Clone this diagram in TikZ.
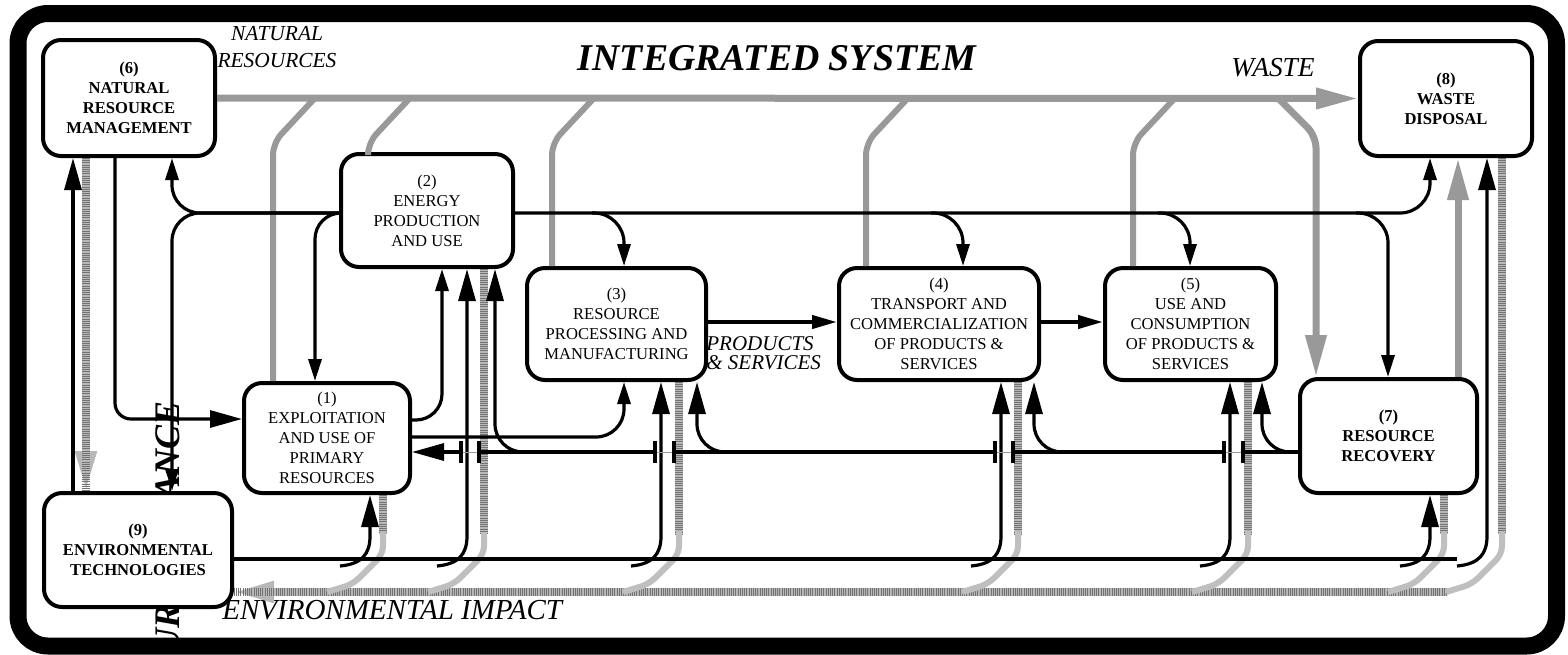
\documentclass[tikz,border=0pt]{standalone}
\usepackage{fontspec}
\setmainfont{Liberation Serif}
\usetikzlibrary{arrows.meta}

\tikzset{
  box/.style={draw, line width=2pt, rounded corners=9pt, fill=white, align=center, inner sep=2pt,
    font=\fontsize{8.3}{10}\selectfont},
  bbox/.style={box, font=\fontsize{8.3}{10}\selectfont\bfseries},
  wire/.style={line width=1.6pt},
  flow/.style={wire, -{Triangle[length=16pt,width=8.5pt]}},
  sflow/.style={wire, -{Triangle[length=11pt,width=6.5pt]}},
  pflow/.style={line width=2pt, -{Triangle[length=12.5pt,width=6.5pt]}},
  gline/.style={draw=black!40, line width=3pt},
  gflow/.style={draw=black!40, line width=3.5pt, -{Triangle[length=21pt,width=10pt]}},
  hatch/.style={draw=black!28, line width=4pt,
    postaction={draw=black!55, line width=4pt, dash pattern=on 0.5pt off 0.6pt, arrows=-}},
  hflow/.style={hatch, -{Triangle[length=20pt,width=10pt]}},
  bendline/.style={draw=black!25, line width=3pt, rounded corners=4pt},
  hop/.style={line width=2pt},
}

\begin{document}
\begin{tikzpicture}[x=0.5pt, y=-0.5pt]
\useasboundingbox (0,0) rectangle (1568,654);
\fill[white] (0,0) rectangle (1568,654);

% vertical caption, mostly hidden under (9) and the frame
\node[rotate=90, anchor=east, inner sep=0pt, font=\fontsize{18}{21}\selectfont\bfseries\itshape] (surv) at (168,401) {SURVEILLANCE};

% outer frame
\draw[line width=8.5pt, rounded corners=15pt] (18,13.5) rectangle (1556.5,646);

% the nine blocks
\node[bbox, minimum width=86pt, minimum height=58pt] (b6) at (129,98) {(6)\\NATURAL\\RESOURCE\\MANAGEMENT};
\node[box, minimum width=86pt, minimum height=56.5pt] (b2) at (427,210.5) {(2)\\ENERGY\\PRODUCTION\\AND USE};
\node[box, minimum width=89.5pt, minimum height=56pt] (b3) at (616.5,324) {(3)\\RESOURCE\\PROCESSING AND\\MANUFACTURING};
\node[box, minimum width=100pt, minimum height=56pt] (b4) at (939,324) {(4)\\TRANSPORT AND\\COMMERCIALIZATION\\OF PRODUCTS \&\\SERVICES};
\node[box, minimum width=85.5pt, minimum height=56pt] (b5) at (1190.5,324) {(5)\\USE AND\\CONSUMPTION\\OF PRODUCTS \&\\SERVICES};
\node[box, minimum width=83pt, minimum height=55pt] (b1) at (327,438) {(1)\\EXPLOITATION\\AND USE OF\\PRIMARY\\RESOURCES};
\node[bbox, minimum width=94pt, minimum height=57pt] (b9) at (138,550) {(9)\\ENVIRONMENTAL\\TECHNOLOGIES};
\node[bbox, minimum width=88.5pt, minimum height=57pt] (b7) at (1388.5,436) {(7)\\RESOURCE\\RECOVERY};
\node[bbox, minimum width=86pt, minimum height=57.5pt] (b8) at (1446,98.5) {(8)\\WASTE\\DISPOSAL};

% captions
\node[font=\fontsize{18.9}{22}\selectfont\bfseries\itshape] (title) at (777,58) {INTEGRATED SYSTEM};
\node[align=center, font=\fontsize{10.7}{13.5}\selectfont\itshape] (natres) at (277,47) {NATURAL\\RESOURCES};
\node[font=\fontsize{13.7}{16}\selectfont\itshape] (waste) at (1273,68) {WASTE};
\node[anchor=west, inner sep=0pt, font=\fontsize{14.5}{17}\selectfont\itshape] (impact) at (222,610) {ENVIRONMENTAL IMPACT};
\node[anchor=west, inner sep=0pt, align=left, font=\fontsize{10.5}{9.5}\selectfont\itshape] (prodserv) at (706,353) {PRODUCTS\\\& SERVICES};

% resources and waste (grey)
\draw[gflow] (b6.east) -- (b8.west);
\foreach \x/\bx in {273/b1,368/b2,552/b3,866/b4,1133/b5}
  \draw[gline, rounded corners=6pt] (\bx.north -| \x,0) -- (\x,143) -- ({\x+42},98);
\draw[gflow, rounded corners=6pt] (1278,98) -- (1316,136) -- (b7.north -| 1316,0);
\draw[gflow] (b7.north -| 1458,0) -- (b8.south -| 1458,0);

% environmental impact (hatched)
\draw[hflow] (b6.south -| 86,0) -- (b9.north -| 86,0);
\draw[hflow] (1447,592) -- (b9.east |- 0,592);
\foreach \x/\bx in {383/b1,484/b2,679/b3,1018/b4,1248/b5,1444/b7,1502/b8} {
  \draw[hatch] (\bx.south -| \x,0) -- (\x,534);
  \draw[bendline] (\x,532) -- (\x,554) -- ({\x-30},584) -- ({\x-56},592);
}

% energy out of (2)
\draw[sflow, rounded corners=14pt] (b2.west |- 0,213) -- (172,213) -- (b6.south -| 172,0);
\draw[sflow, rounded corners=14pt] (b2.west |- 0,213) -- (172,213) -- (b9.north -| 172,0);
\draw[sflow, rounded corners=13pt] (b2.west |- 0,213) -- (315,213) -- (b1.north -| 315,0);
\draw[sflow, rounded corners=15pt] (b2.east |- 0,213) -- (1430,213) -- (b8.south -| 1430,0);
\foreach \x/\bx in {624/b3,963/b4,1190/b5,1388/b7}
  \draw[sflow, rounded corners=15pt] ({\x-32},213) -- (\x,213) -- (\bx.north -| \x,0);

% primary resources to (2) and (3)
\draw[sflow, rounded corners=13pt] (b1.east |- 0,420) -- (442,420) -- (b2.south -| 442,0);
\draw[sflow, rounded corners=14pt] (b1.east |- 0,437) -- (624,437) -- (b3.south -| 624,0);

% management and technologies
\draw[flow, rounded corners=8pt] (b6.south -| 115,0) -- (115,419) -- (b1.west |- 0,419);
\draw[flow] (b9.north -| 73,0) -- (b6.south -| 73,0);

% products & services
\draw[pflow] (b3.east |- 0,322) -- (b4.west |- 0,322);
\draw[pflow] (b4.east |- 0,322) -- (b5.west |- 0,322);

% environmental technologies to every block
\draw[wire] (b9.east |- 0,559) -- (1457,559);
\foreach \x/\bx in {370/b1,467/b2,661/b3,1001/b4,1230/b5,1430/b7,1487/b8}
  \draw[flow] ({\x-30},566) .. controls ({\x-8},564) and (\x,554) .. (\x,536) -- (\bx.south -| \x,0);

% recovered resources from (7)
\draw[wire] (b7.west |- 0,452) -- (1243,452) (1224,452) -- (1013,452) (995,452) -- (674,452) (655,452) -- (479,452);
\draw[flow] (461,452) -- (b1.east |- 0,452);
\foreach \a/\b in {461/479,655/674,995/1013,1224/1243} {
  \draw[black!40, line width=0.4pt] (\a,452) -- (\b,452);
  \draw[hop] (\a,441) -- (\a,463) (\b,441) -- (\b,463);
}
\foreach \x/\bx in {495/b2,697/b3,1034/b4,1262/b5}
  \draw[flow, rounded corners=14pt] ({\x+28},452) -- (\x,452) -- (\bx.south -| \x,0);
\end{tikzpicture}
\end{document}
